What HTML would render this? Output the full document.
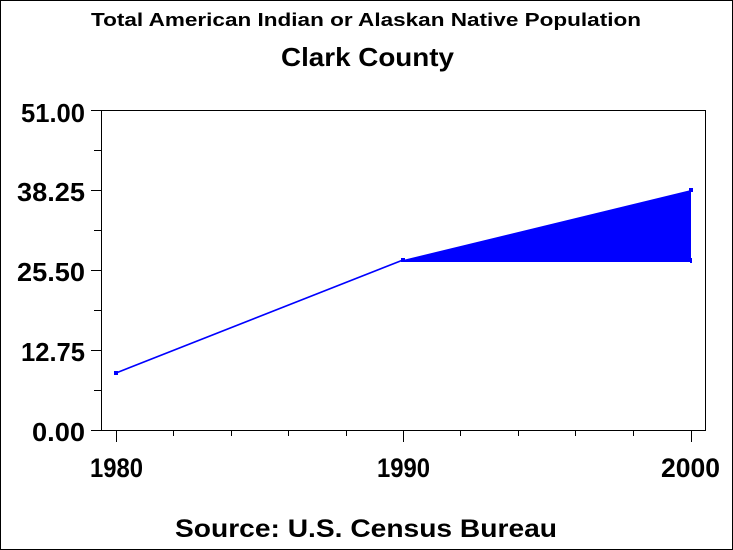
<!DOCTYPE html>
<html>
<head>
<meta charset="utf-8">
<style>
  html, body { margin: 0; padding: 0; background: #fff; }
  svg { display: block; }
  text { font-family: "Liberation Sans", Arial, sans-serif; fill: #000; }
</style>
</head>
<body>
<svg width="733" height="550" viewBox="0 0 733 550" xmlns="http://www.w3.org/2000/svg">
  <rect x="0" y="0" width="733" height="550" fill="#fff"/>
  <!-- outer border -->
  <rect x="0.5" y="0.5" width="732" height="549" fill="none" stroke="#000" stroke-width="1"/>

  <!-- titles -->
  <text x="91" y="26" font-size="18" font-weight="bold" textLength="550" lengthAdjust="spacingAndGlyphs">Total American Indian or Alaskan Native Population</text>
  <text x="281" y="66" font-size="26" font-weight="bold" textLength="173" lengthAdjust="spacingAndGlyphs">Clark  County</text>

  <!-- data fill -->
  <polygon points="403,260 691,190 691,262 403,262" fill="#0000ff"/>
  <!-- data line -->
  <polyline points="116,373 403,260" fill="none" stroke="#0000ff" stroke-width="1.6"/>
  <rect x="114" y="371" width="4" height="4" fill="#0000ff"/>
  <rect x="401" y="258" width="4" height="4" fill="#0000ff"/>
  <rect x="689" y="188" width="4" height="4" fill="#0000ff"/>
  <rect x="690" y="258" width="2" height="5" fill="#0000ff"/>

  <!-- plot frame -->
  <rect x="101.5" y="110.5" width="604" height="320" fill="none" stroke="#000" stroke-width="1"/>

  <!-- y ticks -->
  <g stroke="#000" stroke-width="1">
    <line x1="91" y1="110.5" x2="101" y2="110.5"/>
    <line x1="91" y1="190.5" x2="101" y2="190.5"/>
    <line x1="91" y1="270.5" x2="101" y2="270.5"/>
    <line x1="91" y1="350.5" x2="101" y2="350.5"/>
    <line x1="91" y1="430.5" x2="101" y2="430.5"/>
    <line x1="94" y1="150.5" x2="101" y2="150.5"/>
    <line x1="94" y1="230.5" x2="101" y2="230.5"/>
    <line x1="94" y1="310.5" x2="101" y2="310.5"/>
    <line x1="94" y1="390.5" x2="101" y2="390.5"/>
  </g>

  <!-- x ticks -->
  <g stroke="#000" stroke-width="1">
    <line x1="116.5" y1="431" x2="116.5" y2="442"/>
    <line x1="403.5" y1="431" x2="403.5" y2="442"/>
    <line x1="691.5" y1="431" x2="691.5" y2="442"/>
    <line x1="173.5" y1="431" x2="173.5" y2="436"/>
    <line x1="231.5" y1="431" x2="231.5" y2="436"/>
    <line x1="288.5" y1="431" x2="288.5" y2="436"/>
    <line x1="346.5" y1="431" x2="346.5" y2="436"/>
    <line x1="460.5" y1="431" x2="460.5" y2="436"/>
    <line x1="518.5" y1="431" x2="518.5" y2="436"/>
    <line x1="575.5" y1="431" x2="575.5" y2="436"/>
    <line x1="633.5" y1="431" x2="633.5" y2="436"/>
  </g>

  <!-- y labels -->
  <g font-size="26" font-weight="bold" text-anchor="end">
    <text x="85" y="122" textLength="64" lengthAdjust="spacingAndGlyphs">51.00</text>
    <text x="85" y="201" textLength="68" lengthAdjust="spacingAndGlyphs">38.25</text>
    <text x="85" y="281" textLength="68" lengthAdjust="spacingAndGlyphs">25.50</text>
    <text x="85" y="361" textLength="64" lengthAdjust="spacingAndGlyphs">12.75</text>
    <text x="85" y="441" textLength="53" lengthAdjust="spacingAndGlyphs">0.00</text>
  </g>

  <!-- x labels -->
  <g font-size="27" font-weight="bold">
    <text x="90" y="477" textLength="53" lengthAdjust="spacingAndGlyphs">1980</text>
    <text x="377" y="477" textLength="53" lengthAdjust="spacingAndGlyphs">1990</text>
    <text x="661" y="477" textLength="59" lengthAdjust="spacingAndGlyphs">2000</text>
  </g>

  <!-- footnote -->
  <text x="175" y="537" font-size="25" font-weight="bold" textLength="382" lengthAdjust="spacingAndGlyphs">Source:  U.S.  Census  Bureau</text>
</svg>
</body>
</html>
